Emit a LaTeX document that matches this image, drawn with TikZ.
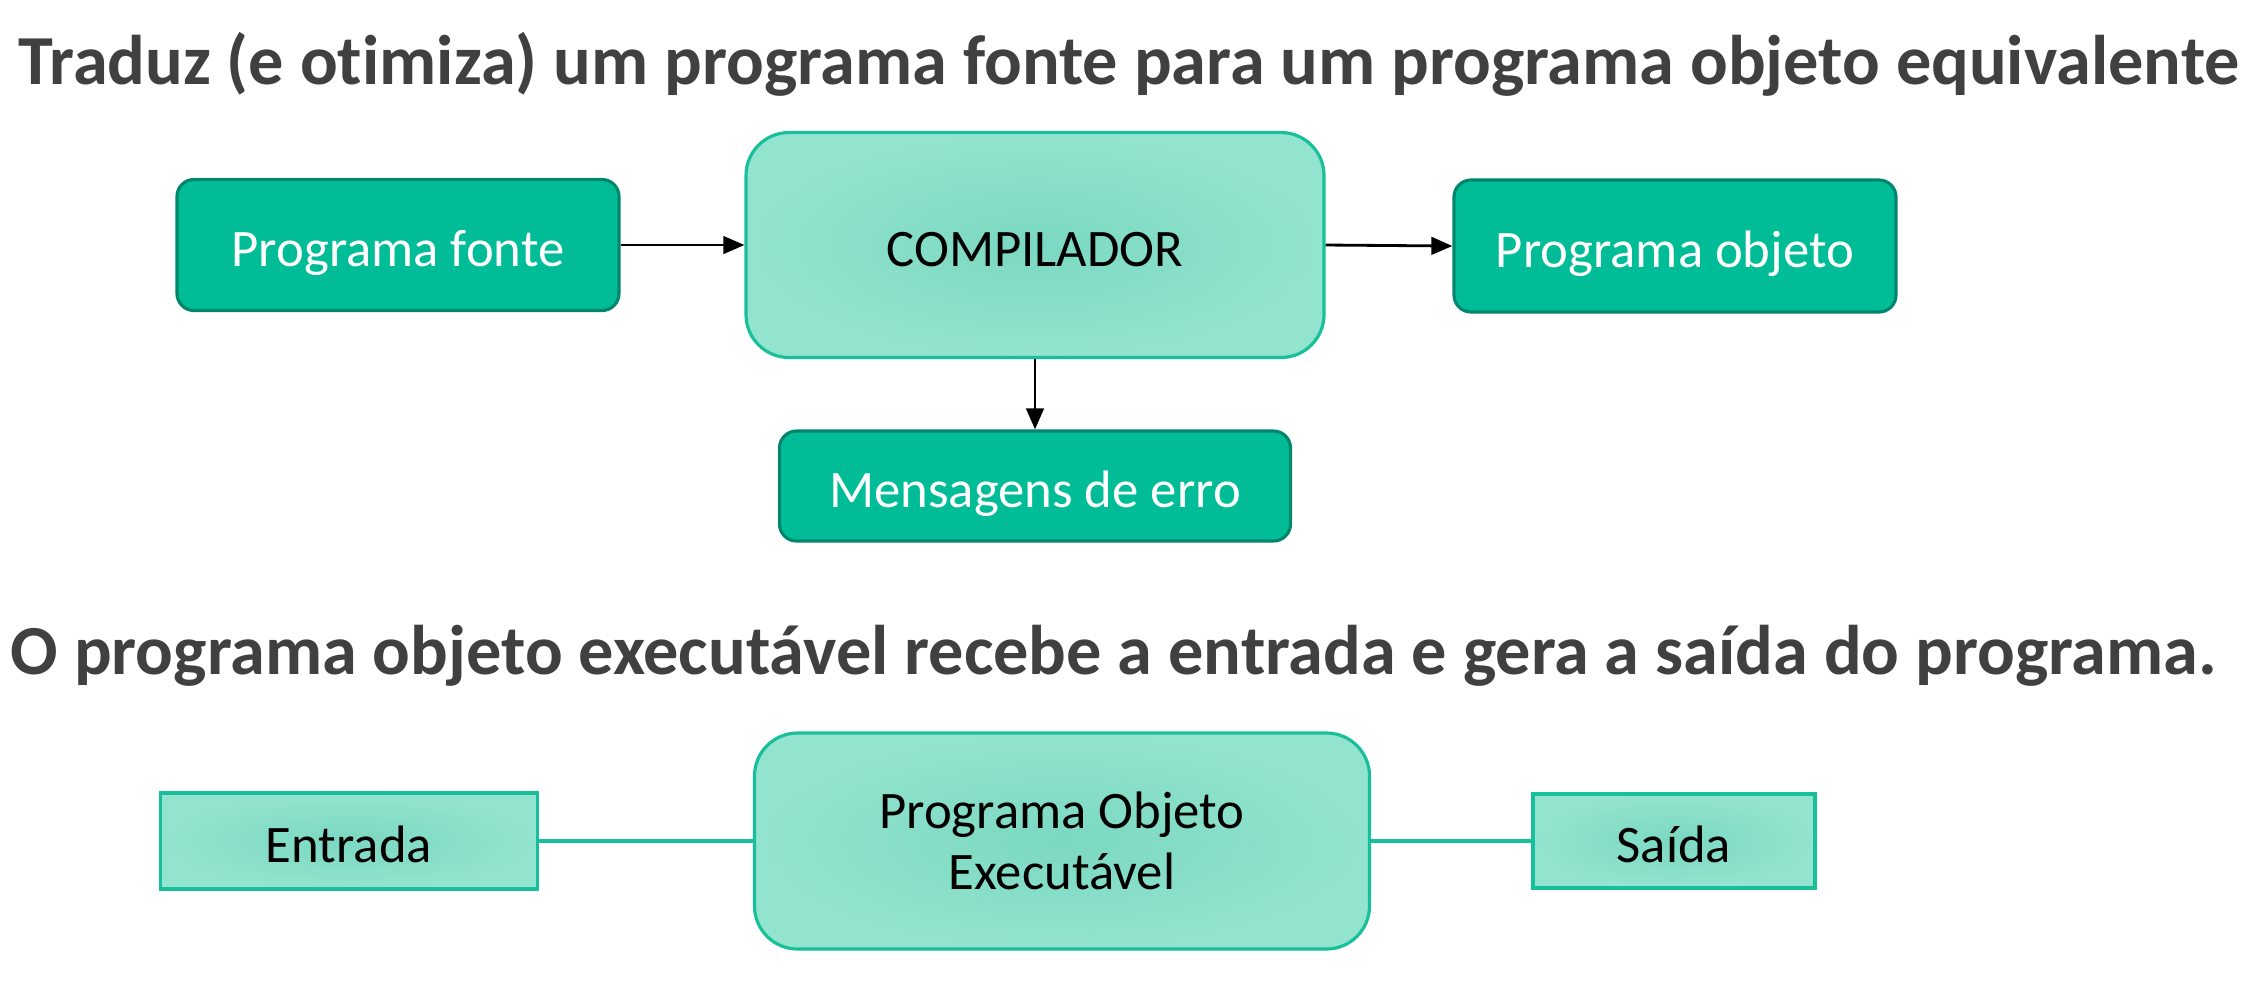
\documentclass[tikz,border=0pt]{standalone}
\usepackage{fontspec}
\setmainfont{Carlito}[Ligatures=CommonOff]
\usetikzlibrary{arrows.meta}
\definecolor{titlegray}{HTML}{404040}
\definecolor{tealdark}{HTML}{00BD98}
\definecolor{tealedge}{HTML}{00866D}
\definecolor{tealline}{HTML}{17BF9B}
\definecolor{mintin}{HTML}{7BD8C2}
\definecolor{mintout}{HTML}{93E4CE}
\begin{document}
\begin{tikzpicture}[
    titletext/.style={text=titlegray, font=\fontsize{20}{24}\selectfont\bfseries},
    darkbox/.style={draw=tealedge, fill=tealdark, line width=0.9pt,
      rounded corners=0.17cm, text=white, font=\fontsize{15}{18}\selectfont,
      text height=12pt, text depth=0pt},
    mintbox/.style={draw=tealline, line width=0.9pt, shading=radial,
      inner color=mintin, outer color=mintout, text=black,
      font=\fontsize{15}{17.5}\selectfont, align=center},
    oneline/.style={text height=12pt, text depth=0pt},
    flow/.style={-{Triangle[length=6pt,width=5pt]}, line width=0.8pt, black},
    link/.style={draw=tealline, line width=1pt}
  ]
    \useasboundingbox (0cm,0cm) rectangle (22.62cm,-9.80cm);
    % titulos
    \node[titletext] (titulo1) at (11.29cm, -0.64cm)
      {Traduz (e otimiza) um programa fonte para um programa objeto equivalente};
    \node[titletext] (titulo2) at (11.14cm, -6.56cm)
      {O programa objeto executável recebe a entrada e gera a saída do programa.};
    % compilacao
    \node[darkbox, minimum width=4.42cm, minimum height=1.31cm] (fonte)
      at (3.98cm, -2.45cm) {Programa fonte};
    \node[mintbox, oneline, rounded corners=0.43cm, minimum width=5.78cm,
      minimum height=2.25cm] (compilador) at (10.35cm, -2.45cm) {COMPILADOR};
    \node[darkbox, minimum width=4.42cm, minimum height=1.32cm] (objeto)
      at (16.75cm, -2.46cm) {Programa objeto};
    \node[darkbox, minimum width=5.11cm, minimum height=1.10cm] (erro)
      at (10.35cm, -4.86cm) {Mensagens de erro};
    \draw[flow] (fonte.east) -- (compilador.west);
    \draw[flow] (compilador.east) -- (objeto.west);
    \draw[flow] (compilador.south) -- (erro.north);
    % execucao
    \node[mintbox, oneline, minimum width=3.77cm, minimum height=0.96cm] (entrada)
      at (3.49cm, -8.41cm) {Entrada};
    \node[mintbox, rounded corners=0.43cm, minimum width=6.15cm,
      minimum height=2.16cm] (executavel) at (10.62cm, -8.41cm)
      {Programa Objeto\\Executável};
    \node[mintbox, oneline, minimum width=2.82cm, minimum height=0.94cm] (saida)
      at (16.74cm, -8.41cm) {Saída};
    \draw[link] (entrada.east) -- (executavel.west);
    \draw[link] (executavel.east) -- (saida.west);
  \end{tikzpicture}
\end{document}
